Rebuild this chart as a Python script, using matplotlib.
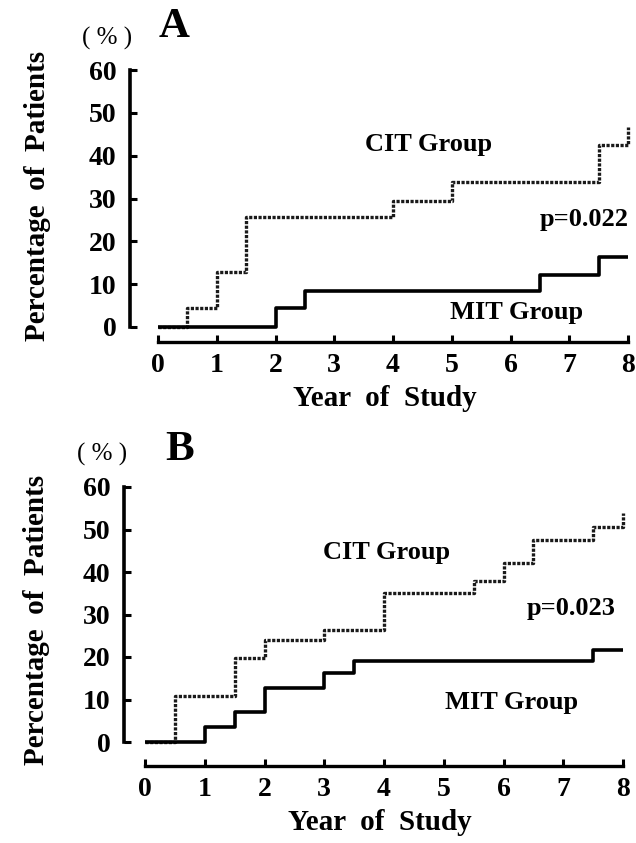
import matplotlib
matplotlib.use("Agg")
import matplotlib.pyplot as plt

# ---- data ----
years_ticks = [0, 1, 2, 3, 4, 5, 6, 7, 8]
pct_ticks = [0, 10, 20, 30, 40, 50, 60]

cit_a_t = [0, 0.5, 1.0, 1.5, 4.0, 5.0, 7.5, 8.0]
cit_a_v = [0, 4.4, 12.9, 25.6, 29.3, 33.8, 42.5, 46.6]
mit_a_t = [0, 2.0, 2.5, 6.5, 7.5, 8.0]
mit_a_v = [0, 4.4, 8.3, 12.1, 16.4, 16.4]

cit_b_t = [0, 0.5, 1.5, 2.0, 3.0, 4.0, 5.5, 6.0, 6.5, 7.5, 8.0]
cit_b_v = [0, 10.9, 19.8, 24.1, 26.4, 35.0, 38.0, 42.2, 47.5, 50.7, 53.8]
mit_b_t = [0, 1.0, 1.5, 2.0, 3.0, 3.5, 7.5, 8.0]
mit_b_v = [0, 3.6, 7.1, 12.8, 16.2, 19.1, 21.6, 21.6]

pvals = ["p=0.022", "p=0.023"]
panel_letters = ["A", "B"]

W, H = 636, 843
plt.rcParams['font.family'] = ['Liberation Serif', 'DejaVu Serif']
plt.rcParams['font.weight'] = 'bold'

fig = plt.figure(figsize=(W / 100, H / 100), dpi=100)

def fx(px):
    return px / W

def fy(py):
    return 1 - py / H

def rect(x0, x8, y0, y60):
    return [fx(x0), fy(y0), fx(x8) - fx(x0), fy(y60) - fy(y0)]

panels = [
    dict(rect=rect(158, 628, 327, 70), cit=(cit_a_t, cit_a_v), mit=(mit_a_t, mit_a_v),
         left_off=20, bottom_off=11, letter=panel_letters[0], letter_xy=(174, 27),
         pct_xy=(107, 38), ylab_xy=(38, 196), xlab_xy=(385, 398),
         cit_txt=(4.6, 42.6), mit_txt=(6.1, 3.3), p_txt=(8.02, 25.0), p=pvals[0]),
    dict(rect=rect(145, 623, 742, 487), cit=(cit_b_t, cit_b_v), mit=(mit_b_t, mit_b_v),
         left_off=15, bottom_off=17, letter=panel_letters[1], letter_xy=(180, 450),
         pct_xy=(102, 454), ylab_xy=(37, 620), xlab_xy=(380, 822),
         cit_txt=(4.05, 44.7), mit_txt=(6.13, 9.4), p_txt=(7.88, 31.5), p=pvals[1]),
]

fs_tick = 20
fs_txt = 19
for P in panels:
    ax = fig.add_axes(P["rect"])
    ax.set_xlim(0, 8)
    ax.set_ylim(0, 60)
    t, v = P["cit"]
    ax.plot(t, v, drawstyle='steps-post', color='#1a1a1a', lw=2.4,
            linestyle=(0, (0.95, 0.45)), clip_on=False, zorder=2)
    t, v = P["mit"]
    ax.plot(t, v, drawstyle='steps-post', color='black', lw=2.6,
            clip_on=False, zorder=3, solid_capstyle='butt')

    for s in ['top', 'right']:
        ax.spines[s].set_visible(False)
    ax.spines['left'].set_position(('outward', P["left_off"]))
    ax.spines['bottom'].set_position(('outward', P["bottom_off"]))
    ax.spines['left'].set_linewidth(2.6)
    ax.spines['bottom'].set_linewidth(2.4)
    ax.spines['left'].set_bounds(0, 60)
    ax.spines['bottom'].set_bounds(0, 8)
    ax.set_xticks(years_ticks)
    ax.set_yticks(pct_ticks)
    ax.set_xticklabels([str(x) for x in years_ticks], fontsize=fs_tick, fontweight='bold')
    ax.set_yticklabels([str(y) for y in pct_ticks], fontsize=fs_tick, fontweight='bold')
    ax.tick_params(axis='x', direction='in', length=5, width=2.2, pad=8)
    ax.tick_params(axis='y', direction='in', length=5, width=2.2, pad=10)
    ax.patch.set_visible(False)

    ax.text(*P["cit_txt"], "CIT Group", fontsize=fs_txt, fontweight='bold', ha='center', va='center')
    ax.text(*P["mit_txt"], "MIT Group", fontsize=fs_txt, fontweight='bold', ha='center', va='center')
    ax.text(*P["p_txt"], P["p"], fontsize=fs_txt, fontweight='bold', ha='right', va='center')

    fig.text(fx(P["letter_xy"][0]), fy(P["letter_xy"][1]), P["letter"], fontsize=31,
             fontweight='bold', ha='center', va='center')
    fig.text(fx(P["pct_xy"][0]), fy(P["pct_xy"][1]), "( % )", fontsize=18,
             fontweight='normal', ha='center', va='center')
    fig.text(fx(P["ylab_xy"][0]), fy(P["ylab_xy"][1]), "Percentage  of  Patients",
             fontsize=21, fontweight='bold', rotation=90, ha='center', va='center')
    fig.text(fx(P["xlab_xy"][0]), fy(P["xlab_xy"][1]), "Year  of  Study",
             fontsize=21, fontweight='bold', ha='center', va='center')

fig.savefig("out.png", dpi=100)
